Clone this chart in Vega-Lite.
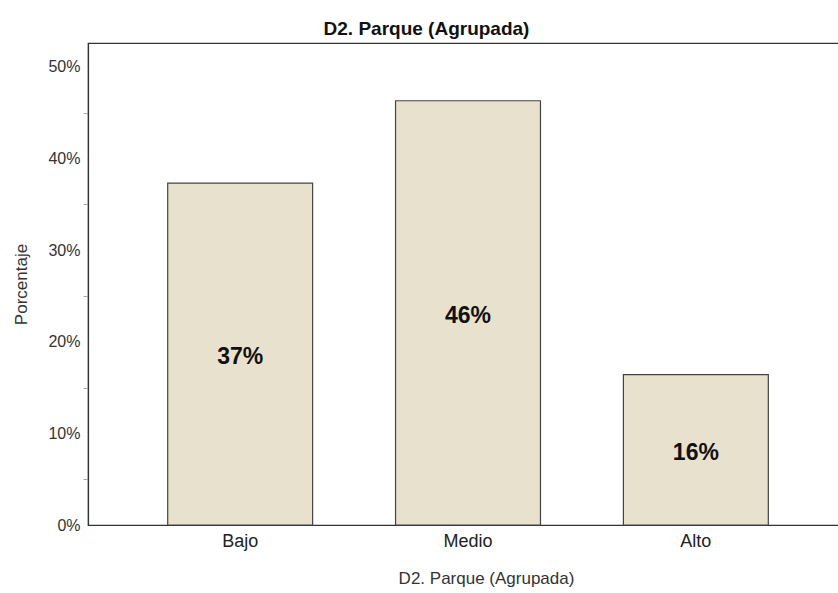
{
  "$schema": "https://vega.github.io/schema/vega-lite/v6.json",
  "width": 751,
  "height": 482,
  "autosize": "none",
  "padding": {"left": 88, "top": 43, "right": 0, "bottom": 68},
  "background": "white",
  "title": {
    "text": "D2. Parque (Agrupada)",
    "font": "Liberation Sans",
    "fontSize": 19,
    "fontWeight": "bold",
    "color": "#111111",
    "anchor": "middle",
    "dx": -37,
    "offset": 4
  },
  "config": {
    "view": {"stroke": "#333333", "strokeWidth": 1.2},
    "axis": {"labelFont": "Liberation Sans", "titleFont": "Liberation Sans", "grid": false}
  },
  "data": {
    "values": [
      {"cat": "Bajo", "pct": 0.373},
      {"cat": "Medio", "pct": 0.463},
      {"cat": "Alto", "pct": 0.164}
    ]
  },
  "transform": [{"calculate": "datum.pct / 2", "as": "mid"}],
  "encoding": {
    "x": {
      "field": "cat",
      "type": "nominal",
      "sort": ["Bajo", "Medio", "Alto"],
      "scale": {"paddingInner": 0.364, "paddingOuter": 0.33, "align": 0.53},
      "axis": {
        "title": "D2. Parque (Agrupada)",
        "labelAngle": 0,
        "labelFontSize": 18,
        "labelColor": "#222222",
        "labelPadding": 7,
        "ticks": false,
        "domainColor": "#333333",
        "domainWidth": 1.2,
        "titleFontSize": 17,
        "titleFontWeight": "normal",
        "titleColor": "#333333",
        "titlePadding": 20,
        "titleX": 398
      }
    }
  },
  "layer": [
    {
      "mark": {"type": "bar", "fill": "#E8E1CD", "stroke": "#444444", "strokeWidth": 1.2},
      "encoding": {
        "y": {
          "field": "pct",
          "type": "quantitative",
          "scale": {"domain": [0, 0.526], "nice": false},
          "axis": {
            "title": "Porcentaje",
            "values": [0, 0.05, 0.1, 0.15, 0.2, 0.25, 0.3, 0.35, 0.4, 0.45, 0.5],
            "labelExpr": "round(datum.value*100) % 10 == 0 ? format(datum.value, '.0%') : ''",
            "labelFontSize": 16,
            "labelColor": "#333333",
            "labelPadding": 3,
            "tickSize": 5,
            "tickColor": {"condition": {"test": "round(datum.value*100) % 10 == 0", "value": "transparent"}, "value": "#aaaaaa"},
            "domainColor": "#333333",
            "domainWidth": 1.2,
            "titleFontSize": 17,
            "titleFontWeight": "normal",
            "titleColor": "#333333",
            "titlePadding": 17
          }
        }
      }
    },
    {
      "mark": {"type": "text", "font": "Liberation Sans", "fontSize": 23, "fontWeight": "bold", "color": "#111111", "baseline": "middle", "dy": 3},
      "encoding": {
        "y": {"field": "mid", "type": "quantitative"},
        "text": {"field": "pct", "type": "quantitative", "format": ".0%"}
      }
    }
  ]
}
